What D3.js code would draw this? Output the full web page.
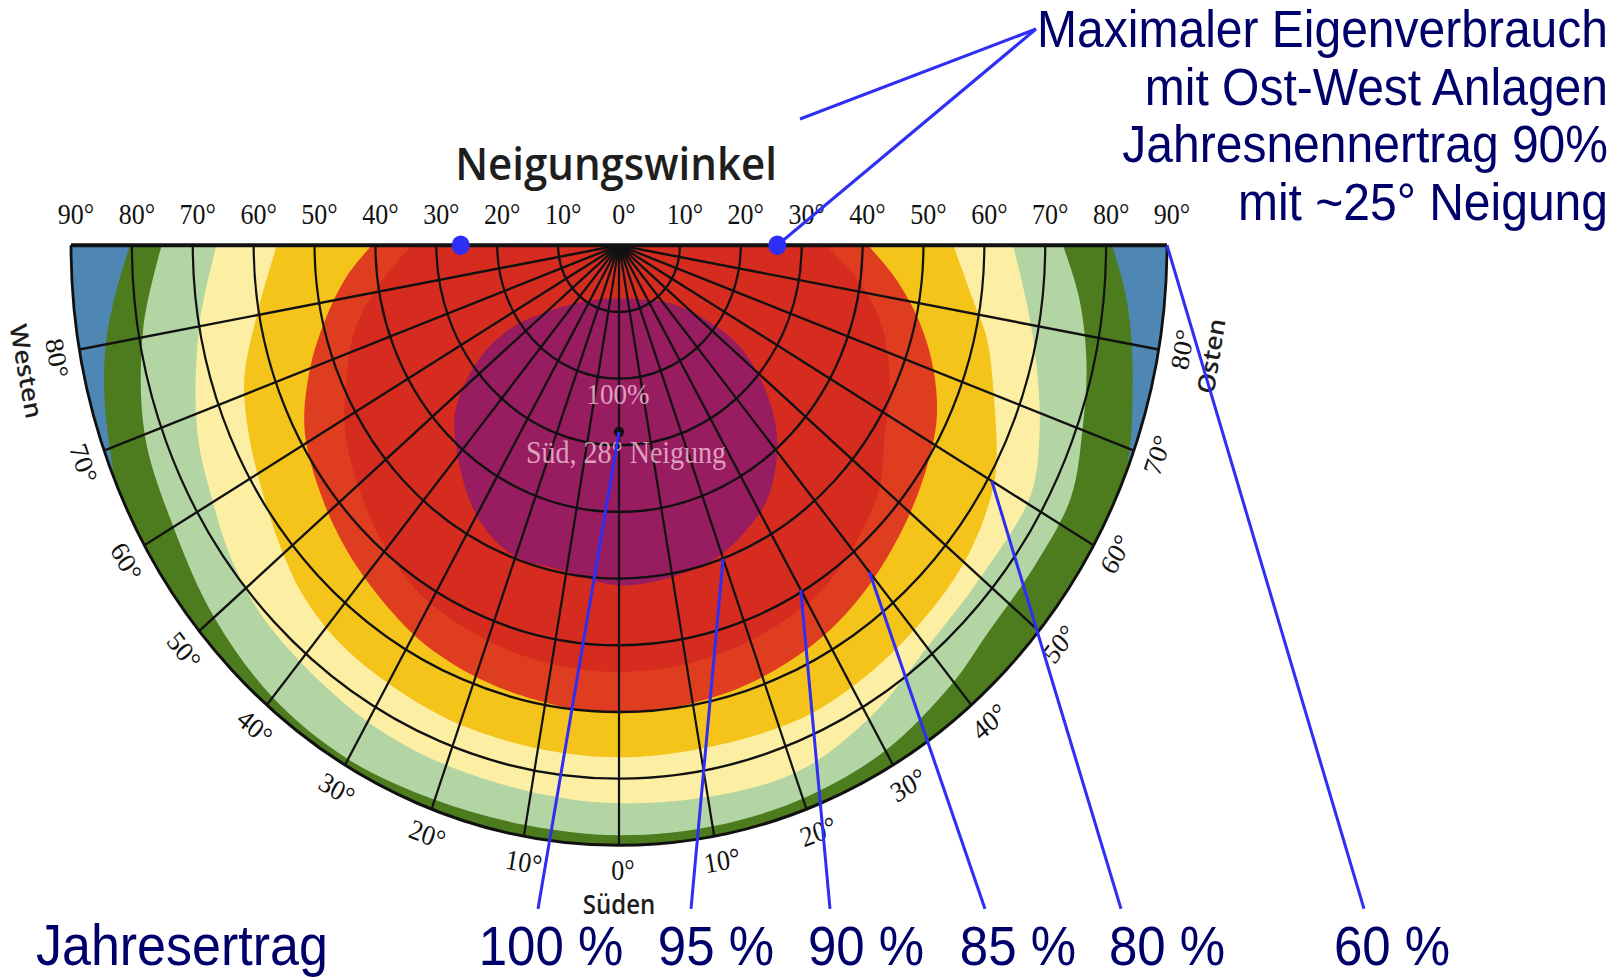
<!DOCTYPE html>
<html>
<head>
<meta charset="utf-8">
<script src="https://cdn.jsdelivr.net/npm/d3@7"></script>
<style>
	html, body { margin: 0; padding: 0; background: #fff; }
	svg { display: block; }
</style>
</head>
<body>
<svg id="chart" width="1616" height="978"></svg>
<script>
// tilt (Neigungswinkel) ticks along the top edge, negative = west half
var topTicks = [-90, -80, -70, -60, -50, -40, -30, -20, -10, 0, 10, 20, 30, 40, 50, 60, 70, 80, 90];
// azimuth ticks along the rim, negative = west
var rimTicks = [-80, -70, -60, -50, -40, -30, -20, -10, 0, 10, 20, 30, 40, 50, 60, 70, 80];
var tiltRings = [10, 20, 30, 40, 50, 60, 70, 80, 90];
var azSpokes = [-80, -70, -60, -50, -40, -30, -20, -10, 0, 10, 20, 30, 40, 50, 60, 70, 80];

// outer edge of each yield band, as [azimuth, tilt]
var edgeDarkGreen = [[-90, 80.3], [-85, 83], [-80, 85.6], [-75, 87.5], [-70, 89], [-64, 91], [-55, 94], [0, 97],
	[55, 94], [64, 91], [70, 89.3], [75, 87.3], [80, 85.5], [85, 83.5], [90, 81]];
var edgeLightGreen = [[-90, 75.1], [-81, 79.1], [-70, 82.9], [-60, 84.5], [-50, 86.8], [-40, 88.5], [-30, 89],
	[-20, 88.5], [-10, 88.3], [0, 88.5], [10, 88.5], [20, 88.3], [30, 87.5], [40, 85.5], [46, 84], [55, 83.5],
	[63, 83.3], [70, 81], [77, 78.8], [84, 76], [90, 72.9]];
var edgePaleYellow = [[-90, 66.1], [-80, 70], [-68, 74.7], [-60, 77], [-53, 79.3], [-45, 81], [-30, 82.5],
	[-17, 83], [0, 83.7], [19, 84.3], [30, 82], [41, 78.5], [50, 77.5], [61, 77.3], [68, 74.5], [75.5, 70.8],
	[82, 67.8], [90, 64.7]];
var edgeYellow = [[-90, 56.2], [-80, 60.4], [-72, 64.7], [-65, 67.1], [-57, 69.5], [-50, 72], [-44, 74],
	[-35, 75.5], [-19, 76.5], [0, 76.8], [21, 77], [32, 76.3], [43, 75], [51, 73.8], [58, 71.9], [62, 70.2],
	[70, 65.5], [77, 62], [82, 58.7], [90, 54.9]];
var edgeOrange = [[-90, 40.6], [-84, 45], [-77, 49.5], [-70, 54], [-62, 58.5], [-54, 61.2], [-45, 63.8],
	[-36, 66], [-27, 68], [-15, 69.3], [0, 70.2], [15, 69.4], [27, 68], [36, 66.2], [45, 63.8], [54, 61.3],
	[63, 58.5], [70, 55], [77, 50.6], [84, 45.5], [90, 40.9]];
var edgeRed = [[-90, 34], [-82, 39.5], [-74, 45], [-66, 49], [-58, 53], [-50, 56], [-40, 59.5], [-30, 62],
	[-15, 63.5], [0, 64], [15, 63.5], [30, 62], [40, 59.5], [50, 56], [56, 52.5], [64, 49.5], [74, 45],
	[82, 40], [90, 34]];
// closed >=95% zone
var purpleZone = [[0, 8], [25, 9], [45, 12.4], [53, 23], [49, 31], [42, 38.8], [33, 45], [26, 47.6], [19, 49.5],
	[10, 50.5], [0, 51], [-11, 49.6], [-20, 49.7], [-27, 48], [-32, 45.8], [-39, 41.8], [-47, 36.8],
	[-53, 29.3], [-55, 22], [-46, 13.4], [-25, 9]];

var bandEdges = [edgeDarkGreen, edgeLightGreen, edgePaleYellow, edgeYellow, edgeOrange, edgeRed];
var bandColors = ["#4c7c1d", "#b3d5a4", "#fcefa4", "#f5c41a", "#df3d20", "#d52c1f"];
var baseColor = "#4f87b4";
var purpleColor = "#981c60";

var yieldLabels = ["100 %", "95 %", "90 %", "85 %", "80 %", "60 %"];
var yieldPoints = [[0, 28], [20, 50], [30, 59.7], [40, 64], [60, 70.7], [90, 90]];
var eastWestPoints = [[-90, 26], [90, 26]];
var bestPoint = [0, 28];
var noteLines = ["Maximaler Eigenverbrauch", "mit Ost-West Anlagen", "Jahresnennertrag 90%", "mit ~25° Neigung"];

// layout (the scanned original is stretched vertically)
var SY = 1.095;
var cx = 619, cy = 224, R = 548;
var labelX = [551, 716, 866, 1018, 1167, 1392];
var leaderX = [538, 691, 830, 985, 1121, 1364];

var svg = d3.select("#chart");
var root = svg.append("g").attr("transform", "scale(1," + SY + ")");

var rad = d3.scaleLinear().domain([0, 90]).range([0, R]);
var ang = d3.scaleLinear().domain([-90, 90]).range([1.5 * Math.PI, 0.5 * Math.PI]);

function pt(d) {
	var a = ang(d[0]), r = rad(d[1]);
	return [cx + r * Math.sin(a), cy - r * Math.cos(a)];
}

var half = d3.arc()({innerRadius: 0, outerRadius: R, startAngle: Math.PI / 2, endAngle: 1.5 * Math.PI});

root.append("clipPath").attr("id", "half").append("path").attr("d", half);

var plot = root.append("g").attr("transform", "translate(" + cx + "," + cy + ")");
var zones = plot.append("g").attr("clip-path", "url(#half)");

zones.append("path").attr("d", half).attr("fill", baseColor);

var edgeLine = d3.lineRadial()
	.angle(function (d) { return ang(d[0]); })
	.radius(function (d) { return rad(d[1]); })
	.curve(d3.curveCatmullRom);

bandEdges.forEach(function (edge, i) {
	zones.append("path")
		.attr("d", edgeLine(edge) + "L0,0Z")
		.attr("fill", bandColors[i]);
});

zones.append("path")
	.attr("d", edgeLine.curve(d3.curveCatmullRomClosed)(purpleZone))
	.attr("fill", purpleColor);

// grid
var grid = plot.append("g").attr("fill", "none").attr("stroke", "#111");
tiltRings.forEach(function (t) {
	var p = d3.path();
	p.arc(0, 0, rad(t), 0, Math.PI);
	grid.append("path").attr("d", p.toString()).attr("stroke-width", t === 90 ? 2.8 : 2.2);
});
azSpokes.forEach(function (az) {
	var e = pt([az, 90]);
	grid.append("line")
		.attr("x1", 0).attr("y1", 0)
		.attr("x2", e[0] - cx).attr("y2", e[1] - cy)
		.attr("stroke-width", 2.2);
});
grid.append("line")
	.attr("x1", -R).attr("y1", 0).attr("x2", R).attr("y2", 0)
	.attr("stroke-width", 3.8);

// centre texts
plot.append("circle").attr("cx", pt(bestPoint)[0] - cx).attr("cy", pt(bestPoint)[1] - cy)
	.attr("r", 5).attr("fill", "#111");
root.append("text").attr("x", 618).attr("y", 369).attr("text-anchor", "middle")
	.attr("font-family", "Liberation Serif").attr("font-size", 27)
	.attr("fill", "#f2c4da").attr("fill-opacity", 0.8).text("100%");
root.append("text").attr("x", 626).attr("y", 423).attr("text-anchor", "middle")
	.attr("font-family", "Liberation Serif").attr("font-size", 28)
	.attr("fill", "#f2c4da").attr("fill-opacity", 0.8).text("Süd, 28° Neigung");

// title and tick labels
root.append("text").attr("x", 616).attr("y", 164).attr("text-anchor", "middle")
	.attr("font-family", "Open Sans").attr("font-weight", 600).attr("font-size", 42)
	.attr("fill", "#1e1e1e").text("Neigungswinkel");

root.append("g").selectAll("text").data(topTicks).join("text")
	.attr("x", function (d) { return pt([d < 0 ? -90 : 90, Math.abs(d)])[0] + 5; })
	.attr("y", 205)
	.attr("text-anchor", "middle")
	.attr("font-family", "Liberation Serif").attr("font-size", 26).attr("fill", "#111")
	.text(function (d) { return Math.abs(d) + "°"; });

root.append("g").selectAll("text").data(rimTicks).join("text")
	.attr("transform", function (d) {
		var a = ang(d), r = R + 23;
		return "translate(" + (cx + r * Math.sin(a)) + "," + (cy - r * Math.cos(a)) + ") rotate(" + (-d) + ")";
	})
	.attr("x", 4)
	.attr("dy", "0.35em")
	.attr("text-anchor", "middle")
	.attr("font-family", "Liberation Serif").attr("font-size", 26).attr("fill", "#111")
	.text(function (d) { return Math.abs(d) + "°"; });

var compass = [["Westen", -79, 56], ["Süden", 0, 54], ["Osten", 80.3, 53]];
root.append("g").selectAll("text").data(compass).join("text")
	.attr("transform", function (d) {
		var a = ang(d[1]), r = R + d[2];
		return "translate(" + (cx + r * Math.sin(a)) + "," + (cy - r * Math.cos(a)) + ") rotate(" + (-d[1]) + ")";
	})
	.attr("dy", "0.35em")
	.attr("text-anchor", "middle")
	.attr("font-family", "Open Sans").attr("font-weight", 600).attr("font-size", 24).attr("fill", "#1e1e1e")
	.text(function (d) { return d[0]; });

// annotations
var blue = "#2e2ef5", navy = "#00006b";
var ann = root.append("g");

yieldPoints.forEach(function (d, i) {
	var e = pt(d);
	ann.append("line")
		.attr("x1", leaderX[i]).attr("y1", 830)
		.attr("x2", e[0]).attr("y2", e[1])
		.attr("stroke", blue).attr("stroke-width", 3);
});

ann.selectAll("text.yield").data(yieldLabels).join("text")
	.attr("class", "yield")
	.attr("x", function (d, i) { return labelX[i]; })
	.attr("y", 881)
	.attr("text-anchor", "middle")
	.attr("font-family", "Liberation Sans").attr("font-size", 51).attr("fill", navy)
	.text(function (d) { return d; });

ann.append("text").attr("x", 36).attr("y", 881)
	.attr("font-family", "Liberation Sans").attr("font-size", 52).attr("fill", navy)
	.text("Jahresertrag");

var noteAnchor = [1036, 26.5];
ann.append("line")
	.attr("x1", noteAnchor[0]).attr("y1", noteAnchor[1]).attr("x2", 800).attr("y2", 108.7)
	.attr("stroke", blue).attr("stroke-width", 3);
ann.append("line")
	.attr("x1", noteAnchor[0]).attr("y1", noteAnchor[1])
	.attr("x2", pt(eastWestPoints[1])[0]).attr("y2", pt(eastWestPoints[1])[1])
	.attr("stroke", blue).attr("stroke-width", 3);

ann.selectAll("circle").data(eastWestPoints).join("circle")
	.attr("cx", function (d) { return pt(d)[0]; })
	.attr("cy", function (d) { return pt(d)[1]; })
	.attr("r", 9).attr("fill", blue);

ann.selectAll("text.note").data(noteLines).join("text")
	.attr("class", "note")
	.attr("x", 1608)
	.attr("y", function (d, i) { return 43 + i * 52.7; })
	.attr("text-anchor", "end")
	.attr("font-family", "Liberation Sans").attr("font-size", 48).attr("fill", navy)
	.text(function (d) { return d; });
</script>
</body>
</html>
